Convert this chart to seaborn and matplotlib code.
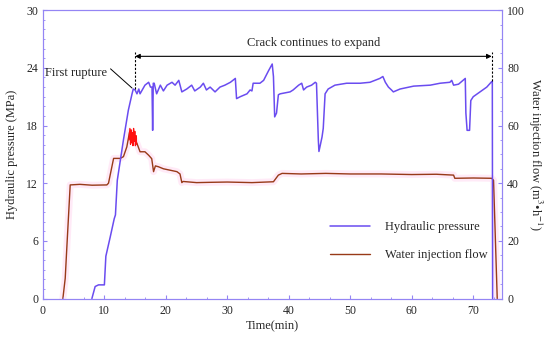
import numpy as np
import pandas as pd
import matplotlib
matplotlib.use("Agg")
import matplotlib.pyplot as plt
import seaborn as sns
from matplotlib.ticker import MultipleLocator, AutoMinorLocator

# hydraulic pressure (MPa)
t_p = [7.97, 8.5, 9.05, 10.0, 10.24, 10.95, 11.6, 11.8, 12.1, 13.1, 13.9, 14.5,
       14.7, 15.0, 15.3, 15.6, 15.8, 16.6, 17.2, 17.5, 17.75, 17.85, 17.95, 18.1,
       18.5, 19.1, 19.6, 20.2, 21.0, 21.5, 22.1, 22.6, 23.4, 24.2, 24.7, 25.6,
       26.1, 26.6, 27.2, 28.0, 28.8, 29.6, 30.5, 31.3, 31.5, 32.1, 33.2, 33.7,
       34.0, 34.2, 35.3, 35.9, 36.7, 37.3, 37.5, 37.7, 38.0, 38.3, 38.6, 40.2,
       40.7, 41.6, 42.1, 42.4, 42.9, 43.7, 44.3, 44.5, 44.8, 44.9, 45.4, 45.6,
       45.9, 46.4, 47.5, 49.4, 51.6, 53.2, 54.8, 55.3, 55.7, 56.2, 56.7, 57.0,
       58.1, 60.3, 63.0, 64.6, 66.2, 66.5, 66.8, 67.6, 68.7, 68.8, 69.0, 69.4,
       69.6, 70.0, 71.1, 72.2, 72.9, 73.1, 73.15]
pressure = [0, 1.25, 1.42, 1.42, 4.4, 6.4, 8.3, 8.7, 12.3, 16.5, 19.6, 21.3,
            21.8, 21.7, 21.3, 21.8, 21.3, 22.2, 22.5, 22.0, 22.0, 17.5, 22.4, 22.4,
            21.3, 22.2, 21.6, 22.2, 22.5, 22.2, 22.7, 21.5, 21.8, 22.2, 21.6, 22.0,
            22.4, 21.7, 22.0, 21.5, 22.0, 22.2, 22.5, 22.9, 20.8, 21.0, 21.3, 21.7,
            21.6, 22.4, 22.4, 22.7, 23.7, 24.4, 23.1, 18.9, 19.3, 21.2, 21.3, 21.5,
            21.7, 22.2, 22.4, 21.7, 22.0, 22.2, 22.5, 22.4, 16.5, 15.3, 16.8, 17.7,
            21.3, 21.8, 22.2, 22.4, 22.4, 22.5, 22.9, 23.1, 22.5, 22.0, 21.7, 21.5,
            21.8, 22.1, 22.2, 22.4, 22.5, 22.7, 22.2, 22.3, 22.9, 19.3, 17.5, 17.5,
            20.6, 21.0, 21.5, 22.0, 22.5, 22.6, 0]

# water injection flow (m3/h)
t_f = [3.25, 3.63, 3.9, 4.44, 6.0, 8.0, 10.4, 10.67, 11.5, 12.57, 13.1, 13.65,
       14.1, 15.3, 15.8, 16.6, 17.2, 17.7, 18.0, 18.3, 18.8, 19.6, 20.7, 21.8,
       22.3, 22.6, 22.8, 25.0, 27.2, 30.0, 34.0, 37.5, 38.3, 38.9, 42.0, 46.0,
       50.0, 55.0, 60.0, 64.0, 66.8, 67.0, 70.0, 73.0, 73.3, 73.9]
flow = [0, 7, 18, 39.4, 39.6, 39.3, 39.4, 40.0, 48.6, 48.6, 49.2, 52.6,
        57.8, 53.8, 50.9, 50.9, 49.7, 48.5, 44.0, 46.0, 45.7, 45.0, 44.5, 44.0,
        43.2, 40.2, 40.6, 40.2, 40.3, 40.4, 40.2, 40.5, 42.8, 43.4, 43.2, 43.4,
        43.2, 43.2, 43.0, 43.1, 42.8, 41.7, 41.8, 41.7, 41.0, 0]

# noisy red part around the first rupture
t_red = [14.0, 14.15, 14.25, 14.35, 14.45, 14.55, 14.65, 14.75, 14.85, 14.95,
         15.05, 15.15, 15.25]
flow_red = [55.0, 59.0, 53.5, 58.5, 54.0, 57.5, 53.0, 59.0, 54.5, 58.0,
            53.0, 56.5, 53.5]

sns.set_style("ticks")
plt.rcParams["font.family"] = ["Liberation Serif", "DejaVu Serif"]
plt.rcParams["mathtext.fontset"] = "stix"
plt.rcParams["font.size"] = 8.5

spine_col = "#9485f4"
p_col = "#6a4cf0"
f_col = "#983a18"

fig, ax = plt.subplots(figsize=(5.5, 3.4), dpi=100)
fig.subplots_adjust(left=0.078, right=0.913, bottom=0.122, top=0.97)
ax2 = ax.twinx()

df_f = pd.DataFrame({"t": t_f, "flow": flow})
df_p = pd.DataFrame({"t": t_p, "p": pressure})

sns.lineplot(data=df_f, x="t", y="flow", ax=ax2, color="#ffd2ee", lw=5,
             alpha=0.45, sort=False, estimator=None, legend=False)
sns.lineplot(data=df_f, x="t", y="flow", ax=ax2, color=f_col, lw=1.0,
             sort=False, estimator=None, label="Water injection flow", legend=False)
sns.lineplot(x=t_red, y=flow_red, ax=ax2, color="#ff1010", lw=0.9,
             sort=False, estimator=None, legend=False)
sns.lineplot(data=df_p, x="t", y="p", ax=ax, color=p_col, lw=1.1,
             sort=False, estimator=None, label="Hydraulic pressure", legend=False)

ax.set_xlim(0, 74.7)
ax.set_ylim(0, 30)
ax2.set_ylim(0, 100)
ax.xaxis.set_major_locator(MultipleLocator(10))
ax.xaxis.set_minor_locator(AutoMinorLocator(3))
ax.yaxis.set_major_locator(MultipleLocator(6))
ax.yaxis.set_minor_locator(AutoMinorLocator(6))
ax2.yaxis.set_major_locator(MultipleLocator(20))
ax2.yaxis.set_minor_locator(AutoMinorLocator(4))

for a in (ax, ax2):
    for s in a.spines.values():
        s.set_color(spine_col)
        s.set_linewidth(0.8)
    a.tick_params(which="both", direction="in", color=spine_col, labelsize=8.5)
    a.tick_params(which="major", length=3)
    a.tick_params(which="minor", length=1.5)
ax.tick_params(axis="x", pad=5)
ax2.set_zorder(0)
ax.set_zorder(1)
ax.patch.set_visible(False)

ax.set_xlabel("Time(min)", fontsize=9, labelpad=2)
ax.set_ylabel("Hydraulic pressure (MPa)", fontsize=9, labelpad=6)
ax2.set_ylabel("Water injection flow (m$^3$•h$^{-1}$)", fontsize=9,
               rotation=270, labelpad=14)

# annotations
ax.plot([15, 15], [21.8, 25.6], ls=(0, (2, 1.5)), color="black", lw=0.8)
ax.plot([73.0, 73.0], [22.6, 25.6], ls=(0, (2, 1.5)), color="black", lw=0.8)
ax.annotate("", xy=(15, 25.2), xytext=(73.0, 25.2),
            arrowprops=dict(arrowstyle="<|-|>", color="black", lw=0.8,
                            mutation_scale=7, shrinkA=0, shrinkB=0))
ax.text(44, 26.0, "Crack continues to expand", ha="center", va="bottom",
        fontsize=9)
ax.text(0.4, 23.5, "First rupture", ha="left", va="center", fontsize=9)
ax.plot([11.0, 14.5], [23.9, 21.9], color="black", lw=0.7)

h1, l1 = ax.get_legend_handles_labels()
h2, l2 = ax2.get_legend_handles_labels()
ax.legend(h1 + h2, l1 + l2, loc="lower left", bbox_to_anchor=(0.6, 0.09),
          frameon=False, fontsize=9, handlelength=3.2, labelspacing=1.3,
          handletextpad=1.2)

fig.savefig("out.png", dpi=100)
